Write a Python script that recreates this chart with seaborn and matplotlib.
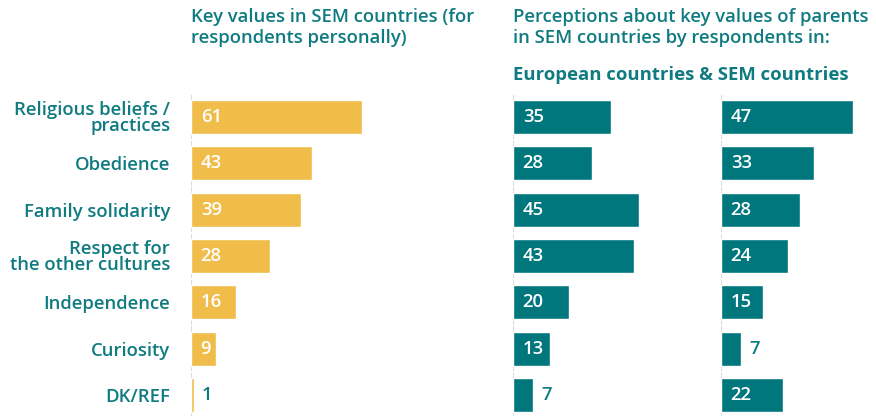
import pandas as pd
import matplotlib.pyplot as plt
import seaborn as sns

## data
categories = ['Religious beliefs /\npractices', 'Obedience', 'Family solidarity',
              'Respect for\nthe other cultures', 'Independence', 'Curiosity', 'DK/REF']
personal = [61, 43, 39, 28, 16, 9, 1]
parents_europe = [35, 28, 45, 43, 20, 13, 7]
parents_sem = [47, 33, 28, 24, 15, 7, 22]

title_left = 'Key values in SEM countries (for\nrespondents personally)'
title_right = 'Perceptions about key values of parents\nin SEM countries by respondents in:'
subtitle = 'European countries & SEM countries'

## style
sns.set_style('white')
plt.rcParams['font.family'] = ['Open Sans', 'DejaVu Sans']
TEAL = '#0f7b81'
BAR_TEAL = '#00777d'
YELLOW = '#f0bd4a'
GREY = '#dcdcdc'
FS = 13.3

W, H = 876, 416
fig = plt.figure(figsize=(W / 100, H / 100), dpi=100)

# axes boxes in pixels, same px/unit scale (~2.81) for all panels
scale = 2.81
top_px, bottom_px = 93.8, 418.2
def make_ax(x0, xmax):
    width = xmax * scale
    return fig.add_axes([x0 / W, (H - bottom_px) / H, width / W, (bottom_px - top_px) / H])

panels = [(191, 100, personal, YELLOW, True),
          (513, 70, parents_europe, BAR_TEAL, False),
          (721, 55, parents_sem, BAR_TEAL, False)]

for x0, xmax, vals, col, show_labels in panels:
    ax = make_ax(x0, xmax)
    df = pd.DataFrame({'cat': categories, 'value': vals})
    sns.barplot(data=df, x='value', y='cat', color=col, orient='h',
                width=0.73, saturation=1, ax=ax)
    ax.set_xlim(0, xmax)
    ax.set_ylim(6.5, -0.5)
    for s in ax.spines.values():
        s.set_visible(False)
    ax.set_xticks([])
    ax.set_xlabel('')
    ax.set_ylabel('')
    # light grey axis segments, one per row
    for i in range(len(categories)):
        ax.vlines(0, i - 0.48, i + 0.48, color=GREY, lw=1.5, zorder=0)
    if show_labels:
        ax.set_yticks(range(len(categories)))
        ax.set_yticklabels(categories, color=TEAL, fontsize=FS,
                           fontweight='semibold', linespacing=0.85)
        ax.tick_params(axis='y', length=0, pad=15)
    else:
        ax.set_yticks([])
    # value labels: inside if the bar is wide enough, otherwise after it
    for i, v in enumerate(vals):
        if v >= 8:
            ax.annotate(str(v), (0, i), xytext=(7, 0), textcoords='offset points',
                        ha='left', va='center', color='white', fontsize=FS,
                        fontweight='semibold')
        else:
            ax.annotate(str(v), (v, i), xytext=(6, 0), textcoords='offset points',
                        ha='left', va='center', color=TEAL, fontsize=FS,
                        fontweight='semibold')

fig.text(191 / W, 1 - 8 / H, title_left, ha='left', va='top', color=TEAL,
         fontsize=FS, fontweight='semibold', linespacing=1.2)
fig.text(513 / W, 1 - 8 / H, title_right, ha='left', va='top', color=TEAL,
         fontsize=FS, fontweight='semibold', linespacing=1.2)
fig.text(513 / W, 1 - 66 / H, subtitle, ha='left', va='top', color=TEAL,
         fontsize=FS, fontweight='bold')

fig.savefig('out.png', dpi=100)
